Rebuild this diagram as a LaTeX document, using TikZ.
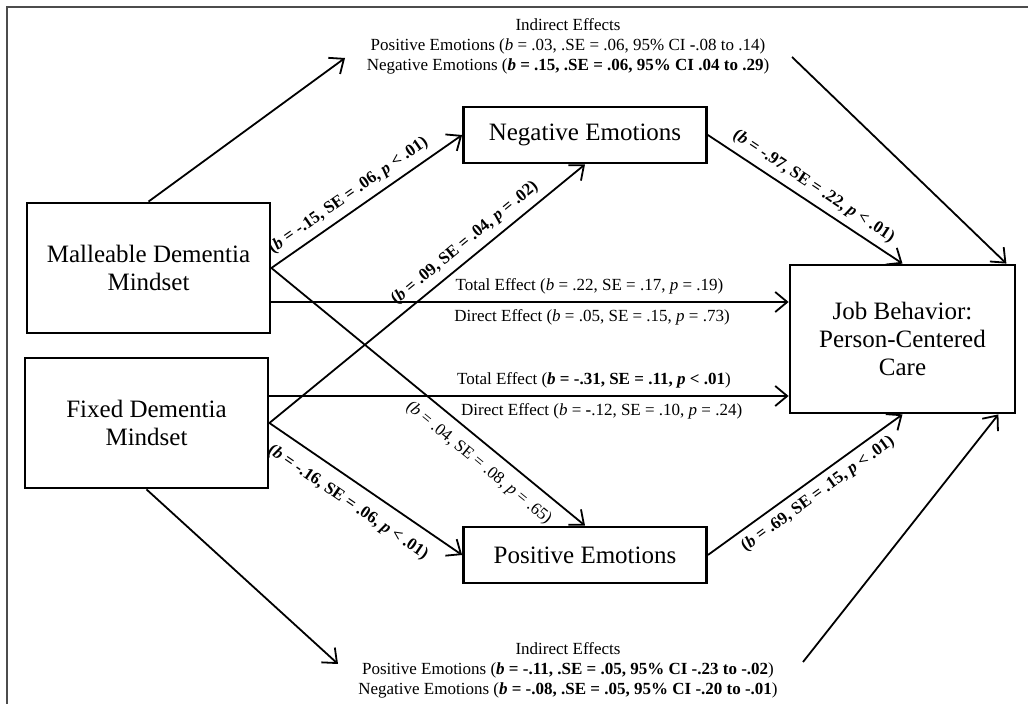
\documentclass[tikz,border=0pt]{standalone}
\usepackage{fontspec}
\setmainfont{Liberation Serif}
\usetikzlibrary{arrows.meta,positioning,calc}

\begin{document}
\begin{tikzpicture}[x=0.5pt,y=-0.5pt]
        \tikzstyle{every node}=[font=\fontsize{8.5}{10}\selectfont]
        \tikzstyle{varbox}=[draw,line width=1.4pt,minimum width=121.5pt,minimum height=65pt,align=center,font=\fontsize{12.5}{14}\selectfont]
        \tikzstyle{medbox}=[varbox,minimum height=28pt]
        \tikzstyle{effect}=[-{Straight Barb[length=6pt,width=10pt]},line width=0.9pt]
        \tikzstyle{coef}=[sloped,font=\fontsize{8.5}{10}\selectfont\bfseries]

        \useasboundingbox (0,0) rectangle (1028,704);
        %%% frame
        \draw[line width=1pt,black!70] (7,704) -- (7,7) -- (1028,7);

        %%% Mindsets
        \node[varbox] (mall) at (148.5,268) {Malleable Dementia\\Mindset};
        \node[varbox] (fixd) at (146.5,423) {Fixed Dementia\\Mindset};
        %%% Emotions
        \node[medbox] (neg) at (585,135) {Negative Emotions};
        \node[medbox] (pos) at (585,555) {Positive Emotions};
        %%% Outcome
        \node[varbox,minimum width=112.5pt,minimum height=74pt] (job) at (902.5,339) {Job Behavior:\\Person-Centered\\Care};

        %%% Indirect effects
        \node[align=center] (indtop) at (568,46) {Indirect Effects\\Positive Emotions (\textit{b} = .03, .SE = .06, 95\% CI \textbf{-}.08 to .14)\\Negative Emotions (\textbf{\textit{b} = .15, .SE = .06, 95\% CI .04 to .29})};
        \node[align=center] (indbot) at (568,670) {Indirect Effects\\Positive Emotions (\textbf{\textit{b} = -.11, .SE = .05, 95\% CI -.23 to -.02})\\Negative Emotions (\textbf{\textit{b} = -.08, .SE = .05, 95\% CI -.20 to -.01})};

        \coordinate (topL) at (345,58);
        \coordinate (topR) at (792,57);
        \coordinate (botL) at (338,664);
        \coordinate (botR) at (803,662);
        \draw[effect] (mall.north) -- (topL);
        \draw[effect] (topR) -- ([xshift=-5pt]job.north east);
        \draw[effect] (fixd.south) -- (botL);
        \draw[effect] (botR) -- ([xshift=-9pt]job.south east);

        %%% Total and direct effects
        \coordinate (malltot) at ([yshift=-17pt]mall.east);
        \coordinate (fixdtot) at ([yshift=13.5pt]fixd.east);
        \draw[effect] (malltot) -- node[above,pos=0.615] {Total Effect (\textit{b} = .22, SE = .17, \textit{p} = .19)}
            node[below,pos=0.62] {Direct Effect (\textit{b} = .05, SE = .15, \textit{p} = .73)} (malltot -| job.west);
        \draw[effect] (fixdtot) -- node[above,pos=0.625] {Total Effect (\textbf{\textit{b} = -.31, SE = .11, \textit{p} < .01})}
            node[below,pos=0.64] {Direct Effect (\textit{b} = \textbf{-}.12, SE = .10, \textit{p} = .24)} (fixdtot -| job.west);

        %%% Paths through emotions
        \draw[effect] (mall.east) -- node[coef,above,pos=0.45] {(\textit{b} = -.15, SE = .06, \textit{p} < .01)} (neg.west);
        \draw[effect] (fixd.east) -- node[coef,above,pos=0.65] {(\textit{b} = .09, SE = .04, \textit{p} = .02)} (neg.south);
        \draw[effect] (mall.east) -- node[sloped,below=2pt,pos=0.7] {(\textit{b} = .04, SE = .08, \textit{p} = .65)} (pos.north);
        \draw[effect] (fixd.east) -- node[coef,below=3pt,pos=0.47] {(\textit{b} = -.16, SE = .06, \textit{p} < .01)} (pos.west);
        \draw[effect] (neg.east) -- node[coef,above,pos=0.5] {(\textit{b} = -.97, SE = .22, \textit{p} < .01)} (job.north);
        \draw[effect] (pos.east) -- node[coef,below,pos=0.52] {(\textit{b} = .69, SE = .15, \textit{p} < .01)} (job.south);
\end{tikzpicture}
\end{document}
